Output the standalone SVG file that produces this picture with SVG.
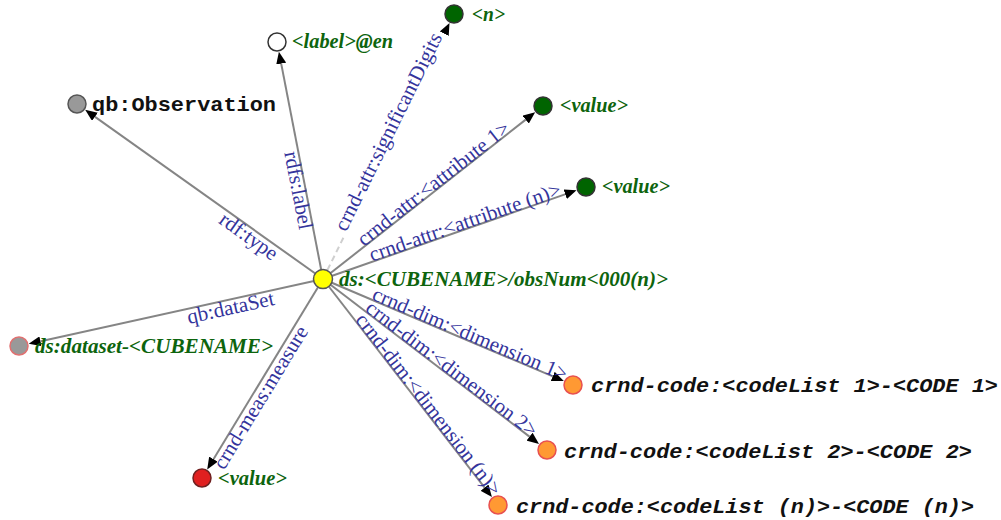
<svg xmlns="http://www.w3.org/2000/svg" width="1001" height="520" viewBox="0 0 1001 520">
<defs>
<marker id="arr" markerUnits="userSpaceOnUse" markerWidth="12" markerHeight="10" refX="2" refY="5" orient="auto">
<path d="M0,0 L12,5 L0,10 z" fill="#000"/>
</marker>
<style>
.edge{stroke:#858585;stroke-width:2;fill:none;marker-end:url(#arr)}
.dash{stroke:#cfcfcf;stroke-dasharray:6 4 6 4 6 4 6 4 6 4 0 600}
.el{font-family:"Liberation Serif","Times New Roman",serif;font-size:21px;fill:#34349c}
.nl{font-family:"Liberation Serif","Times New Roman",serif;font-size:21px;font-weight:bold;font-style:italic;fill:#0d640d}
.ml{font-family:"Liberation Mono","Courier New",monospace;font-size:21px;font-weight:bold;fill:#111}
.mi{font-style:italic}
.n{stroke-width:1.5}
</style>
</defs>
<rect width="1001" height="520" fill="#fff"/>
<g id="connectors">
<line class="edge" x1="323" y1="279" x2="93.3" y2="115.6"/>
<line class="edge" x1="323" y1="279" x2="280.8" y2="61.6"/>
<line class="edge dash" x1="323" y1="279" x2="445.1" y2="31.9"/>
<line class="edge" x1="323" y1="279" x2="527.3" y2="118.4"/>
<line class="edge" x1="323" y1="279" x2="567.1" y2="193.6"/>
<line class="edge" x1="323" y1="279" x2="38.5" y2="341.7"/>
<line class="edge" x1="323" y1="279" x2="212.4" y2="460.9"/>
<line class="edge" x1="323" y1="279" x2="554.6" y2="377.2"/>
<line class="edge" x1="323" y1="279" x2="531.1" y2="437.9"/>
<line class="edge" x1="323" y1="279" x2="485.8" y2="489.2"/>
<text class="el" text-anchor="end" transform="translate(271.9,261.1) rotate(35.43)">rdf:type</text>
<text class="el" text-anchor="end" transform="translate(299.4,230.6) rotate(79.0)">rdfs:label</text>
<text class="el" transform="translate(346.0,232.4) rotate(-63.69)">crnd-attr:significantDigits</text>
<text class="el" transform="translate(363.9,246.9) rotate(-38.18)">crnd-attr:&lt;attribute 1&gt;</text>
<text class="el" transform="translate(372.1,261.8) rotate(-19.28)">crnd-attr:&lt;attribute (n)&gt;</text>
<text class="el" text-anchor="end" transform="translate(275.4,304.8) rotate(-12.43)">qb:dataSet</text>
<text class="el" text-anchor="end" transform="translate(308.8,331.2) rotate(-58.69)">crnd-meas:measure</text>
<text class="el" transform="translate(370.9,299.3) rotate(22.98)">crnd-dim:&lt;dimension 1&gt;</text>
<text class="el" transform="translate(364.3,310.6) rotate(37.36)">crnd-dim:&lt;dimension 2&gt;</text>
<text class="el" transform="translate(354.8,320.1) rotate(52.25)">crnd-dim:&lt;dimension (n)&gt;</text>
</g>
<g id="node-observation">
<circle class="n" cx="77" cy="104" r="9" fill="#999" stroke="#555"/>
<text class="ml" x="92" y="111" textLength="184" lengthAdjust="spacingAndGlyphs">qb:Observation</text>
</g>
<g id="node-label">
<circle class="n" cx="277" cy="42" r="9" fill="#fff" stroke="#333"/>
<text class="nl" x="292" y="48" textLength="101" lengthAdjust="spacingAndGlyphs">&lt;label&gt;@en</text>
</g>
<g id="node-n">
<circle class="n" cx="454" cy="14" r="9" fill="#006400" stroke="#333"/>
<text class="nl" x="472" y="21" textLength="33" lengthAdjust="spacingAndGlyphs">&lt;n&gt;</text>
</g>
<g id="node-value-attr1">
<circle class="n" cx="543" cy="106" r="9" fill="#006400" stroke="#333"/>
<text class="nl" x="560" y="112" textLength="68" lengthAdjust="spacingAndGlyphs">&lt;value&gt;</text>
</g>
<g id="node-value-attrn">
<circle class="n" cx="586" cy="187" r="9" fill="#006400" stroke="#333"/>
<text class="nl" x="602" y="193" textLength="68" lengthAdjust="spacingAndGlyphs">&lt;value&gt;</text>
</g>
<g id="node-dataset">
<circle class="n" cx="19" cy="346" r="9" fill="#999" stroke="#e07070"/>
<text class="nl" x="35" y="353" textLength="238" lengthAdjust="spacingAndGlyphs">ds:dataset-&lt;CUBENAME&gt;</text>
</g>
<g id="node-measure-value">
<circle class="n" cx="202" cy="478" r="9" fill="#e02020" stroke="#702020"/>
<text class="nl" x="218" y="485" textLength="69" lengthAdjust="spacingAndGlyphs">&lt;value&gt;</text>
</g>
<g id="node-code1">
<circle class="n" cx="573" cy="385" r="9" fill="#ff9933" stroke="#e85050"/>
<text class="ml mi" x="591" y="392" textLength="407" lengthAdjust="spacingAndGlyphs">crnd-code:&lt;codeList 1&gt;-&lt;CODE 1&gt;</text>
</g>
<g id="node-code2">
<circle class="n" cx="547" cy="450" r="9" fill="#ff9933" stroke="#e85050"/>
<text class="ml mi" x="564" y="458" textLength="408" lengthAdjust="spacingAndGlyphs">crnd-code:&lt;codeList 2&gt;-&lt;CODE 2&gt;</text>
</g>
<g id="node-coden">
<circle class="n" cx="498" cy="505" r="9" fill="#ff9933" stroke="#e85050"/>
<text class="ml mi" x="516" y="513" textLength="458" lengthAdjust="spacingAndGlyphs">crnd-code:&lt;codeList (n)&gt;-&lt;CODE (n)&gt;</text>
</g>
<g id="node-observation-center">
<circle class="n" cx="323" cy="279" r="9.5" fill="#ffff00" stroke="#555"/>
<text class="nl" x="339" y="286" textLength="329" lengthAdjust="spacingAndGlyphs">ds:&lt;CUBENAME&gt;/obsNum&lt;000(n)&gt;</text>
</g>
</svg>
